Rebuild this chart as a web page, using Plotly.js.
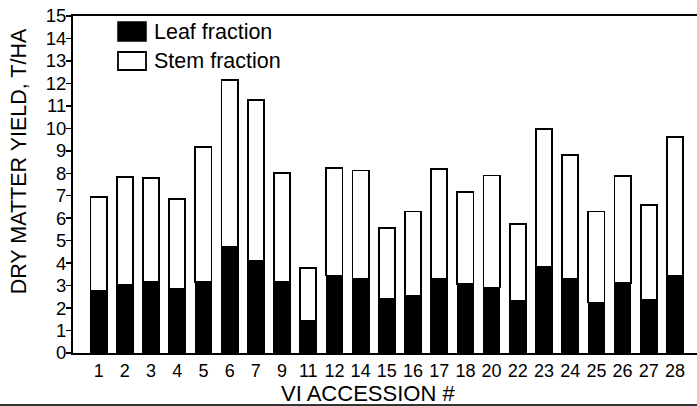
<!DOCTYPE html>
<html>
<head>
<meta charset="utf-8">
<script src="https://cdn.plot.ly/plotly-3.0.1.min.js"></script>
<style>html,body{margin:0;padding:0;background:#fff;}#chart{width:697px;height:406px;}</style>
</head>
<body>
<div id="chart"></div>
<script>
const accessions = ["1","2","3","4","5","6","7","9","11","12","14","15","16","17","18","20","22","23","24","25","26","27","28"];
const leafFraction = [2.75,3.05,3.15,2.85,3.15,4.72,4.12,3.15,1.42,3.45,3.28,2.40,2.52,3.32,3.08,2.92,2.30,3.82,3.30,2.25,3.12,2.38,3.42];
const stemFraction = [4.18,4.80,4.63,4.02,6.03,7.43,7.13,4.85,2.38,4.80,4.84,3.18,3.78,4.88,4.07,4.98,3.45,6.16,5.53,4.05,4.76,4.22,6.20];
const yTicks = [0,1,2,3,4,5,6,7,8,9,10,11,12,13,14,15];

const font = "Liberation Sans, Arial, sans-serif";

const traces = [
  {type:"bar", name:"Leaf fraction", x:accessions, y:leafFraction,
   marker:{color:"#000", line:{color:"#000", width:1.5}}},
  {type:"bar", name:"Stem fraction", x:accessions, y:stemFraction,
   marker:{color:"#fff", line:{color:"#000", width:1.8}}}
];

const layout = {
  width:697, height:406,
  margin:{l:73, r:0, t:16, b:53},
  paper_bgcolor:"#fff", plot_bgcolor:"#fff",
  barmode:"stack", bargap:0.38,
  showlegend:false,
  font:{family:font, color:"#000"},
  xaxis:{type:"category", range:[-0.98,22.84], showline:true, mirror:true,
         linecolor:"#000", linewidth:2, ticks:"", showgrid:false, zeroline:false,
         tickfont:{size:18, family:font, color:"#000"}, fixedrange:true},
  yaxis:{range:[0,15], tickvals:yTicks, ticktext:yTicks.map(String), showline:true, linecolor:"#000", linewidth:2,
         ticks:"outside", ticklen:5, tickwidth:1.5, tickcolor:"#000", showgrid:false, zeroline:false,
         tickfont:{size:18.5, family:font, color:"#000"}, ticklabelstandoff:-4, fixedrange:true},
  annotations:[
    {text:"DRY MATTER YIELD, T/HA", xref:"paper", yref:"paper", x:-0.087, y:0.568,
     textangle:-90, showarrow:false, font:{size:21.5, family:font, color:"#000"}, xanchor:"center", yanchor:"middle"},
    {text:"VI ACCESSION #", xref:"paper", yref:"paper", x:0.472, y:-0.119,
     showarrow:false, font:{size:22, family:font, color:"#000"}, xanchor:"center", yanchor:"middle"},
    {text:"Leaf fraction", xref:"paper", yref:"paper", x:0.1266, y:0.9525,
     showarrow:false, font:{size:21.5, family:font, color:"#000"}, xanchor:"left", yanchor:"middle"},
    {text:"Stem fraction", xref:"paper", yref:"paper", x:0.1266, y:0.8665,
     showarrow:false, font:{size:21.5, family:font, color:"#000"}, xanchor:"left", yanchor:"middle"}
  ],
  shapes:[
    {type:"rect", xref:"paper", yref:"paper", x0:0.0721, x1:0.1170, y0:0.9258, y1:0.9822,
     fillcolor:"#000", line:{color:"#000", width:1.5}},
    {type:"rect", xref:"paper", yref:"paper", x0:0.0721, x1:0.1170, y0:0.8398, y1:0.8932,
     fillcolor:"#fff", line:{color:"#000", width:1.8}},
    {type:"line", xref:"paper", yref:"paper", x0:-0.117, x1:1, y0:-0.154, y1:-0.154,
     line:{color:"#333", width:2}}
  ]
};

Plotly.newPlot("chart", traces, layout, {staticPlot:true, displayModeBar:false});
</script>
</body>
</html>
